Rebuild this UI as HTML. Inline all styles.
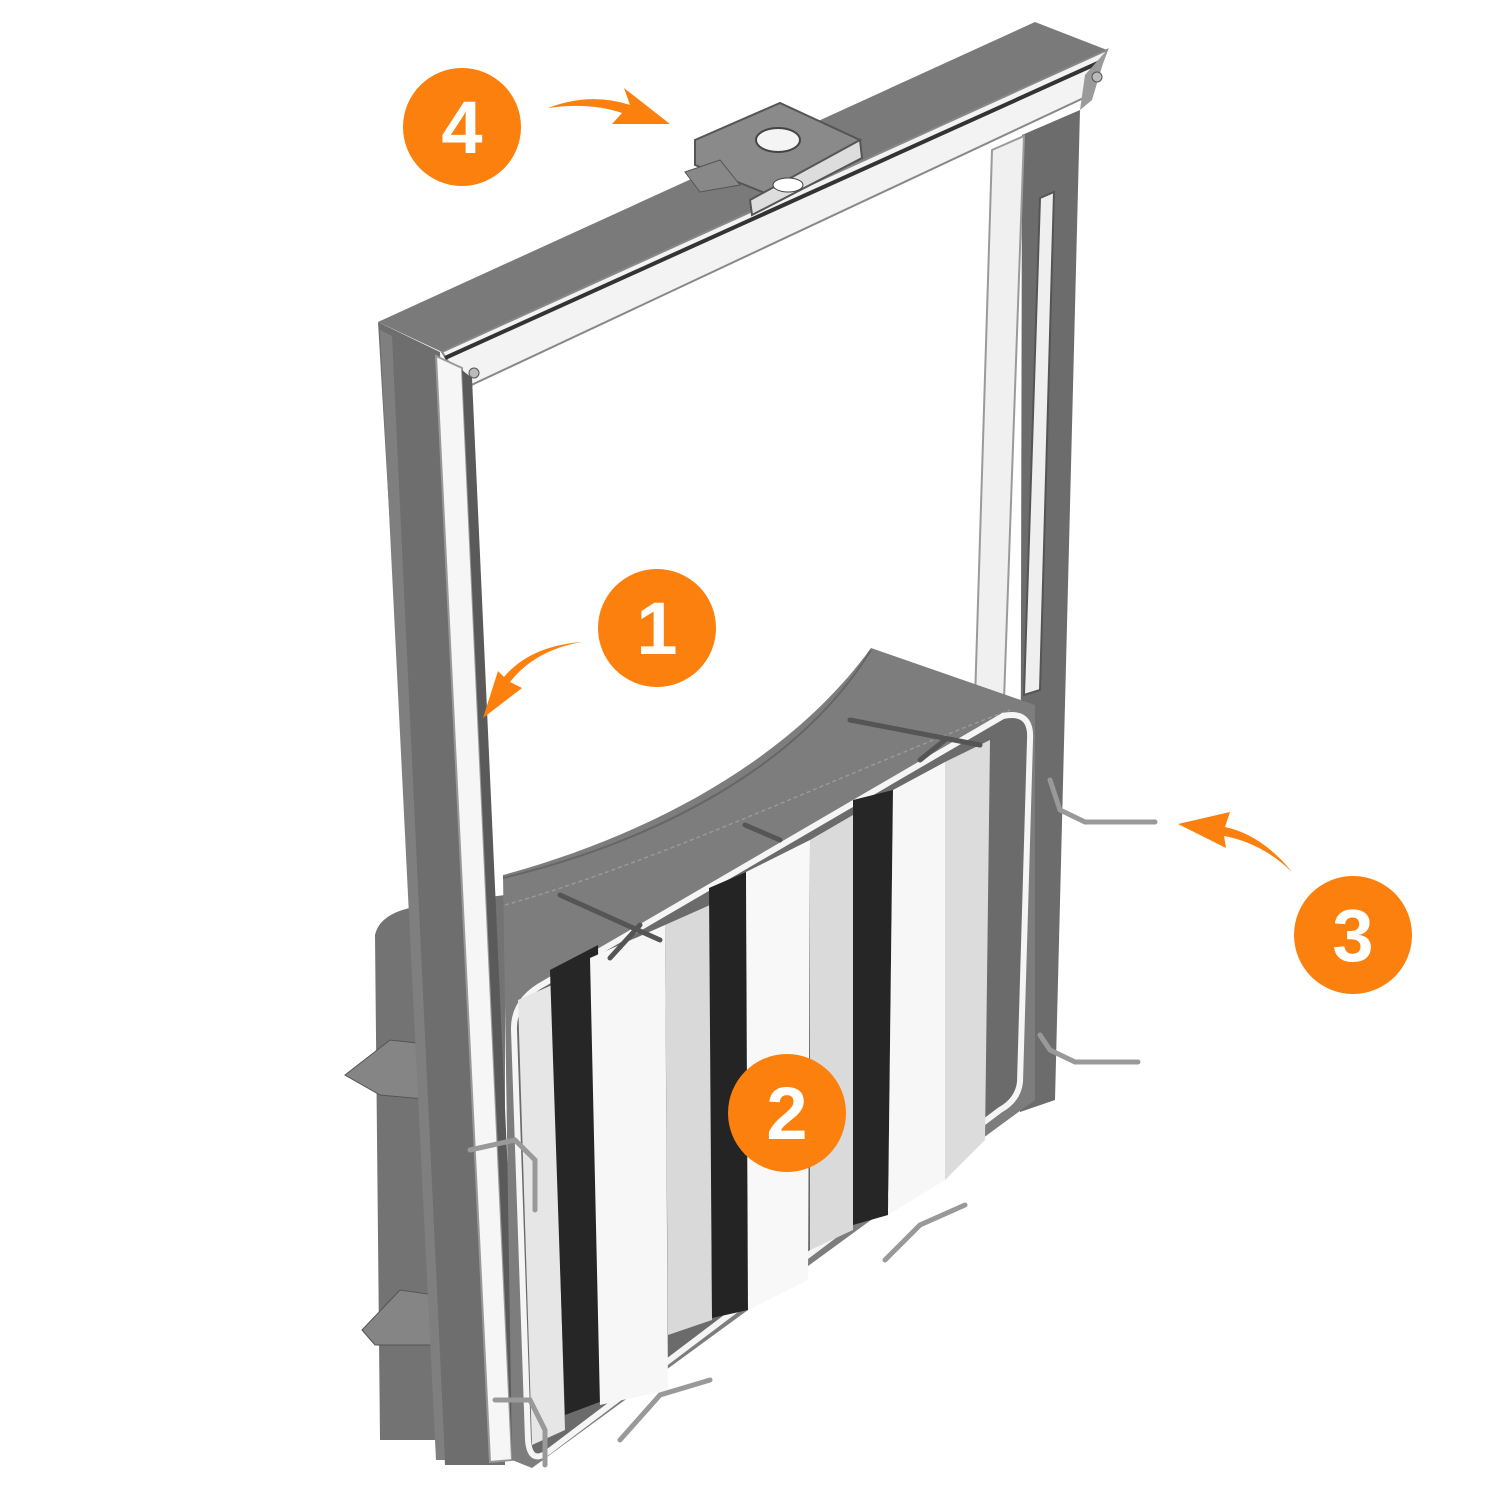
<!DOCTYPE html>
<html><head><meta charset="utf-8"><style>
html,body{margin:0;padding:0;background:#fff}
svg{display:block}
text{font-family:"Liberation Sans",sans-serif;font-weight:bold;fill:#fff;text-anchor:middle}
</style></head><body>
<svg width="1500" height="1500" viewBox="0 0 1500 1500" xmlns="http://www.w3.org/2000/svg">
<!-- right post -->
<polygon points="1022,135 1080,110 1055,1100 1020,1112" fill="#6c6c6c"/>
<polygon points="992,150 1024,136 1004,700 975,700" fill="#f0f0f0" stroke="#9a9a9a" stroke-width="2"/>
<polygon points="1040,198 1054,192 1040,690 1024,695" fill="#efefef" stroke="#555" stroke-width="2"/>
<!-- top beam -->
<polygon points="378,322 1035,22 1107,50 442,352" fill="#7a7a7a"/>
<polygon points="442,352 1107,50 1090,95 465,388" fill="#f3f3f3" stroke="#888" stroke-width="2"/>
<line x1="445" y1="358" x2="1100" y2="62" stroke="#333" stroke-width="4"/>
<polygon points="1085,75 1107,50 1092,100 1080,110" fill="#9a9a9a"/>
<circle cx="474" cy="373" r="5" fill="#bbb" stroke="#555"/>
<circle cx="1097" cy="77" r="5" fill="#bbb" stroke="#555"/>
<!-- top mount plate -->
<polygon points="695,140 780,103 860,140 770,195 695,165" fill="#8a8a8a" stroke="#555" stroke-width="2"/>
<ellipse cx="778" cy="140" rx="22" ry="12" fill="#f4f4f4" stroke="#444" stroke-width="2"/>
<polygon points="750,200 860,140 862,158 752,215" fill="#ddd" stroke="#555" stroke-width="2"/>
<ellipse cx="788" cy="185" rx="15" ry="7" fill="#fff" stroke="#444"/>
<polygon points="685,172 720,160 740,185 700,192" fill="#888" stroke="#555"/>
<!-- panel back part left (behind post) -->
<path d="M375,935 Q380,912 420,906 L505,895 L505,1465 L448,1465 L445,1440 L380,1440 Z" fill="#737373"/>
<polygon points="345,1075 390,1040 435,1045 435,1100 380,1095" fill="#858585" stroke="#555"/>
<polygon points="362,1330 400,1290 435,1295 435,1345 375,1345" fill="#858585" stroke="#555"/>
<!-- left post -->
<polygon points="378,322 440,352 492,1465 445,1465" fill="#6e6e6e"/>
<polygon points="380,330 392,336 445,1460 436,1460" fill="#7f7f7f"/>
<polygon points="436,356 462,368 512,1460 490,1462" fill="#f6f6f6" stroke="#999" stroke-width="2"/>
<polygon points="462,370 472,378 520,1440 512,1455" fill="#5a5a5a"/>
<!-- panel body -->
<path d="M503,875 C650,835 790,760 871,648 L1035,705 L1035,1100 L532,1468 L512,1460 Z" fill="#7d7d7d"/>
<path d="M503,878 C660,840 800,765 871,650" fill="none" stroke="#666" stroke-width="2"/>
<path d="M505,905 C665,860 850,770 1010,710" fill="none" stroke="#999" stroke-width="1.5" stroke-dasharray="4,3"/>
<!-- front frame -->
<path d="M545,983 L1003,716 Q1032,710 1030,740 L1020,1082 Q1018,1100 1000,1110 L548,1452 Q530,1465 528,1440 L514,1030 Q513,1000 545,983 Z" fill="#6b6b6b" stroke="#f5f5f5" stroke-width="6"/>
<!-- stripes -->
<polygon points="518,1000 552,985 565,1430 532,1445" fill="#e6e6e6"/>
<polygon points="550,970 598,945 605,1400 565,1415" fill="#262626"/>
<polygon points="590,958 665,925 668,1390 600,1405" fill="#f7f7f7"/>
<polygon points="665,925 710,905 712,1320 668,1335" fill="#d9d9d9"/>
<polygon points="709,888 746,872 748,1310 712,1318" fill="#242424"/>
<polygon points="746,872 810,840 808,1280 748,1310" fill="#f8f8f8"/>
<polygon points="810,840 853,815 853,1230 810,1250" fill="#dadada"/>
<polygon points="853,800 893,790 888,1215 853,1225" fill="#262626"/>
<polygon points="893,790 945,762 945,1180 888,1215" fill="#f7f7f7"/>
<polygon points="945,762 990,740 985,1140 945,1180" fill="#dcdcdc"/>
<!-- handles/clamps -->
<g stroke="#555" stroke-width="5" fill="none" stroke-linecap="round">
<path d="M1050,780 L1060,810 L1085,822 L1155,822" stroke="#999"/>
<path d="M1040,1035 L1050,1050 L1075,1062 L1138,1062" stroke="#999"/>
<path d="M470,1150 L515,1140 L535,1160 L535,1210" stroke="#999"/>
<path d="M495,1400 L530,1400 L545,1430 L545,1465" stroke="#999"/>
<path d="M620,1440 L660,1395 L710,1380" stroke="#999"/>
<path d="M885,1260 L920,1225 L965,1205" stroke="#999"/>
<path d="M560,895 L660,940 M610,958 L640,925"/>
<path d="M850,720 L980,745 M920,760 L945,740"/>
<path d="M745,825 L780,840"/>
</g>
<!-- orange callouts -->
<g fill="#fb800d">
<circle cx="462" cy="127" r="59"/>
<circle cx="657" cy="628" r="59"/>
<circle cx="1353" cy="935" r="59"/>
<circle cx="787" cy="1113" r="59"/>
<path d="M548,108 Q590,92 630,105 L624,88 L670,124 L612,124 L622,113 Q590,102 548,108 Z"/>
<path d="M582,642 Q535,650 510,682 L522,688 L483,718 L498,671 L504,677 Q530,646 582,642 Z"/>
<path d="M1292,872 Q1262,835 1225,827 L1230,812 L1178,824 L1226,848 L1224,836 Q1262,843 1292,872 Z"/>
</g>
<text x="462" y="153" font-size="74">4</text>
<text x="657" y="654" font-size="74">1</text>
<text x="1353" y="961" font-size="74">3</text>
<text x="787" y="1139" font-size="74">2</text>
</svg>
</body></html>
